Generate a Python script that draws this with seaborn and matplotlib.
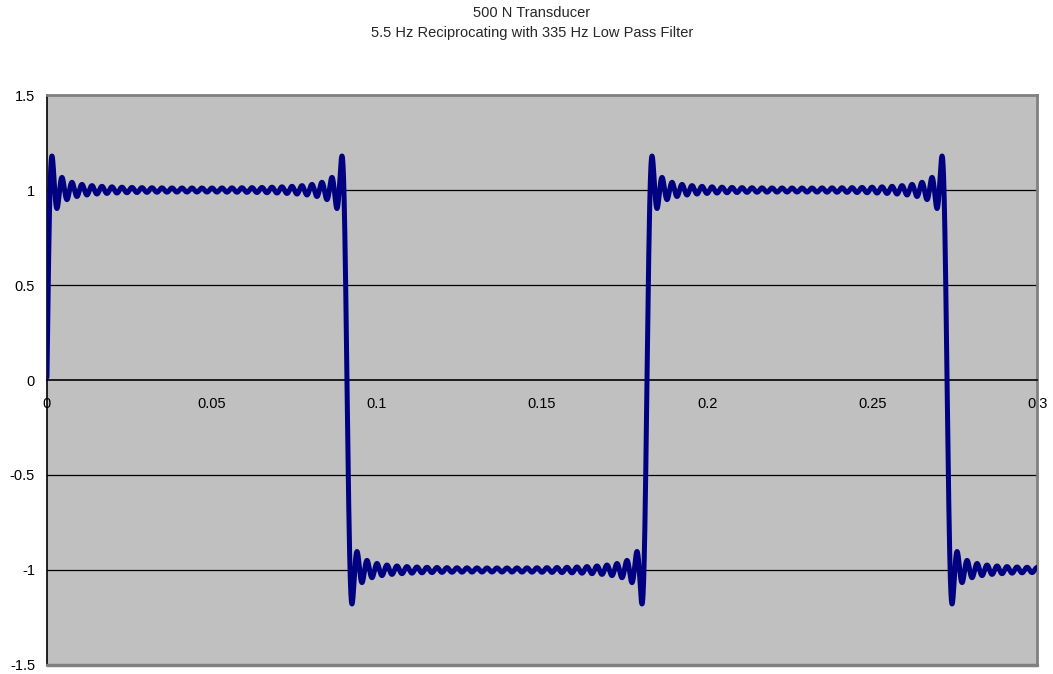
import numpy as np
import pandas as pd
import matplotlib
matplotlib.use("Agg")
import matplotlib.pyplot as plt
import seaborn as sns

# Onda cuadrada: tiempo de cada flanco (s) y nivel de cada tramo
flancos = [0.0, 0.0909, 0.1818, 0.2727, 0.3636]
niveles = [1, -1, 1, -1]
corte_hz = 335  # filtro pasa bajos (del titulo)

x_ticks = [0, 0.05, 0.1, 0.15, 0.2, 0.25, 0.3]
x_labels = ["0", "0.05", "0.1", "0.15", "0.2", "0.25", "0.3"]
y_ticks = [-1.5, -1, -0.5, 0, 0.5, 1, 1.5]
y_labels = ["-1.5", "-1", "-0.5", "0", "0.5", "1", "1.5"]

titulo = "500 N Transducer\n5.5 Hz Reciprocating with 335 Hz Low Pass Filter"

# Construir la onda cuadrada y pasarla por el filtro pasa bajos (FFT)
n = 16000
dt = flancos[-1] / n
t = np.arange(n) * dt
idx = np.searchsorted(flancos, t, side="right") - 1
senal = np.array(niveles, dtype=float)[np.clip(idx, 0, len(niveles) - 1)]
espectro = np.fft.rfft(senal)
freqs = np.fft.rfftfreq(n, dt)
espectro[freqs > corte_hz] = 0
filtrada = np.fft.irfft(espectro, n)

df = pd.DataFrame({"tiempo": t, "fuerza": filtrada})
df = df[df["tiempo"] <= 0.3]

sns.set_style("white")
plt.rcParams["font.family"] = ["Liberation Sans", "DejaVu Sans"]

fig, ax = plt.subplots(figsize=(10.53, 6.74), dpi=100)
fig.subplots_adjust(left=0.0446, right=0.985, top=0.859, bottom=0.0134)
ax.set_facecolor("#C0C0C0")

for y in [-1, -0.5, 0.5, 1]:
    ax.axhline(y, color="black", lw=0.9, zorder=1)

sns.lineplot(data=df, x="tiempo", y="fuerza", color="#000080", lw=3.6, ax=ax, zorder=3)

ax.set_xlim(0, 0.3)
ax.set_ylim(-1.5, 1.5)
ax.set_xticks(x_ticks)
ax.set_xticklabels(x_labels)
ax.set_yticks(y_ticks)
ax.set_yticklabels(y_labels)
ax.set_xlabel("")
ax.set_ylabel("")

# Eje X en y=0, marco gris como en Excel
ax.spines["bottom"].set_position(("data", 0))
ax.spines["bottom"].set_color("black")
ax.spines["bottom"].set_linewidth(1.2)
ax.spines["left"].set_color("black")
ax.spines["left"].set_linewidth(1.2)
for lado in ["top", "right"]:
    ax.spines[lado].set_color("#808080")
    ax.spines[lado].set_linewidth(2)
ax.axhline(-1.5, color="#808080", lw=2.5, clip_on=False, zorder=4)

ax.tick_params(axis="x", direction="out", length=3.6, width=1, pad=8.5, labelsize=10.5, colors="black")
ax.tick_params(axis="y", direction="out", length=3.6, width=1, pad=5, labelsize=10.5, colors="black")

fig.text(0.505, 0.991, titulo, ha="center", va="top", fontsize=10.5, linespacing=1.55)

plt.savefig("out.png", dpi=100)
plt.close()
